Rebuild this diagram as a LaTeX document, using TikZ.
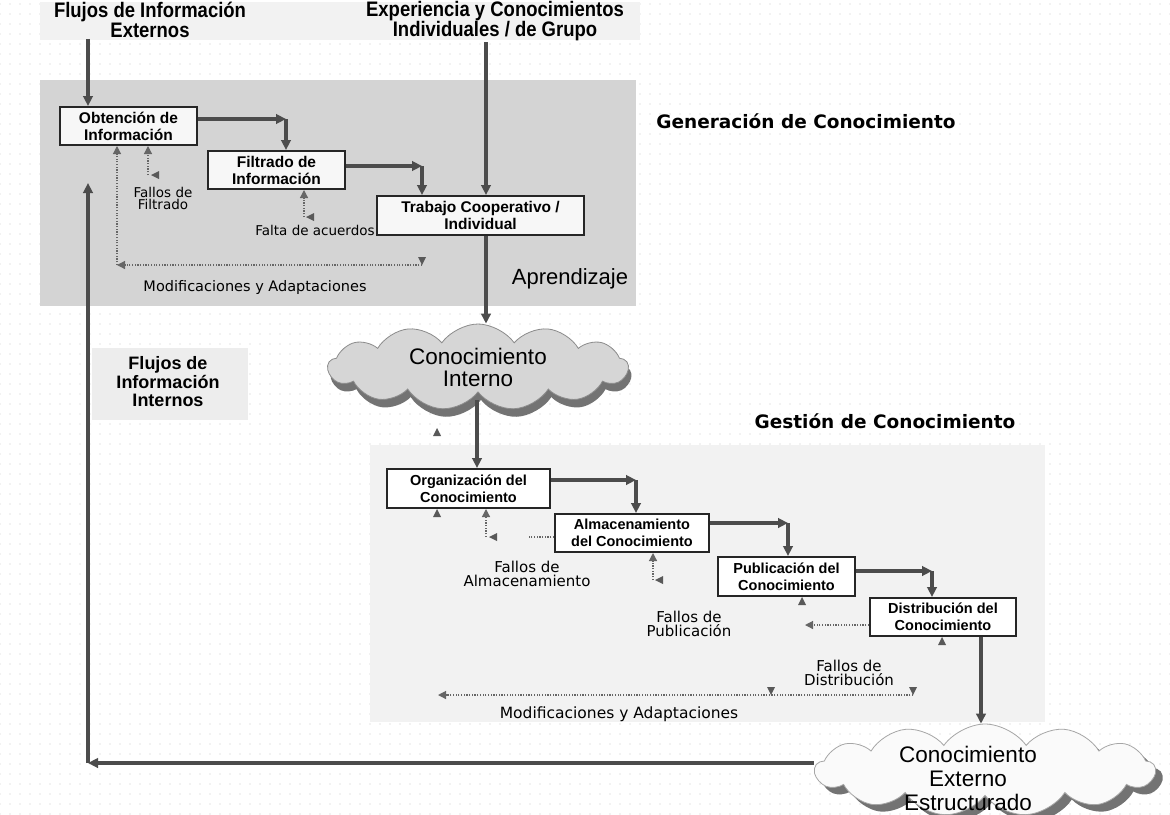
\documentclass[tikz,border=0pt]{standalone}
\usepackage{fontspec}
\setmainfont{Liberation Sans}
\newfontfamily\condfont[FakeStretch=0.88]{Liberation Sans}
\newfontfamily\dvfont{DejaVu Sans}
\usetikzlibrary{arrows.meta,shapes.symbols,calc,patterns}
\pgfdeclarepatternformonly{griddots}{\pgfqpoint{-1pt}{-1pt}}{\pgfqpoint{1pt}{1pt}}{\pgfqpoint{10pt}{10pt}}{\pgfpathcircle{\pgfpointorigin}{0.55pt}\pgfusepath{fill}}
\newcommand\utri[1]{\fill[black!65] ($(#1)+(-4,8)$) -- ($(#1)+(4,8)$) -- (#1) -- cycle;}
\newcommand\dtri[1]{\fill[black!65] ($(#1)+(-4,-8)$) -- ($(#1)+(4,-8)$) -- (#1) -- cycle;}
\newcommand\ltri[1]{\fill[black!65] ($(#1)+(8,-4)$) -- ($(#1)+(8,4)$) -- (#1) -- cycle;}
\begin{document}
\begin{tikzpicture}[x=1pt,y=-1pt,
  genbox/.style={draw=black!85, line width=2pt, fill=black!3, align=center, inner sep=0pt,
    font=\bfseries\fontsize{15.5}{17}\selectfont},
  gesbox/.style={draw=black!85, line width=2pt, fill=white, align=center, inner sep=0pt,
    font=\bfseries\fontsize{14.5}{17}\selectfont},
  flow/.style={draw=black!70, line width=3.3pt, -{Triangle[length=10pt,width=9.5pt]}},
  fb/.style={draw=black!60, line width=1.2pt, dash pattern=on 1.2pt off 1.5pt, -{Triangle[length=8pt,width=8pt]}},
  fbl/.style={draw=black!60, line width=1.2pt, dash pattern=on 1.2pt off 1.5pt},
  toplab/.style={align=center, inner sep=1pt, font=\condfont\bfseries\fontsize{21}{18}\selectfont},
  sect/.style={inner sep=1pt, font=\dvfont\bfseries\fontsize{18.5}{20}\selectfont},
  smallg/.style={align=center, inner sep=0pt, font=\dvfont\fontsize{13.5}{12}\selectfont},
  smalls/.style={align=center, inner sep=0pt, font=\dvfont\fontsize{15}{14}\selectfont},
  cloudsh/.style={cloud, cloud puffs=13, cloud puff arc=110, cloud ignores aspect, inner sep=0pt, align=center,
    font=\fontsize{22.5}{22}\selectfont}
]
\useasboundingbox (0,0) rectangle (1170,814);
\fill[white] (0,0) rectangle (1170,814);
\fill[pattern=griddots, pattern color=black!22] (0,0) rectangle (1170,814);
% shaded regions
\fill[black!5] (40,2) rectangle (640,40);
\fill[black!17] (40,80) rectangle (636,306);
\fill[black!5] (370,445) rectangle (1045,722);
\fill[black!7] (92,348) rectangle (248,420);

% labels
\node[toplab] (fe) at (150,20) {Flujos de Información\\Externos};
\node[toplab] (exp) at (495,21) {Experiencia y Conocimientos\\Individuales / de Grupo};
\node[sect] (gen) at (806,121) {Generación de Conocimiento};
\node[sect] (ges) at (885,421) {Gestión de Conocimiento};
\node[inner sep=0pt, font=\fontsize{22}{22}\selectfont] (apr) at (570,279) {Aprendizaje};
\node[align=center, inner sep=0pt, font=\bfseries\fontsize{18}{18.5}\selectfont] (fi) at (168,382) {Flujos de\\Información\\Internos};

% boxes
\node[genbox, minimum width=137pt, minimum height=38pt] (obt) at (128.5,126) {Obtención de\\Información};
\node[genbox, minimum width=137pt, minimum height=38pt] (fil) at (276.5,170) {Filtrado de\\Información};
\node[genbox, minimum width=207pt, minimum height=39pt] (trab) at (480.5,215.5) {Trabajo Cooperativo /\\Individual};
\node[gesbox, minimum width=163pt, minimum height=39pt] (org) at (468.5,488.5) {Organización del\\Conocimiento};
\node[gesbox, minimum width=154pt, minimum height=38pt] (alm) at (632,533) {Almacenamiento\\del Conocimiento};
\node[gesbox, minimum width=137pt, minimum height=39pt] (pub) at (786.5,576.5) {Publicación del\\Conocimiento};
\node[gesbox, minimum width=146pt, minimum height=38pt] (dis) at (943,617) {Distribución del\\Conocimiento};

% clouds
\node[cloudsh, minimum width=300pt, minimum height=86pt, fill=black!55] (cis) at (481,375) {};
\node[cloudsh, minimum width=300pt, minimum height=86pt, fill=black!16, draw=black!45, line width=0.8pt] (ci) at (478,367) {Conocimiento\\Interno};
\node[cloudsh, minimum width=340pt, minimum height=92pt, fill=black!55] (exts) at (992,777) {};
\node[cloudsh, minimum width=340pt, minimum height=92pt, fill=black!2, draw=black!35, line width=0.8pt] (ext) at (985,770) {};
\node[align=center, inner sep=0pt, font=\fontsize{22.5}{24}\selectfont] (extt) at (968,778) {Conocimiento\\Externo\\Estructurado};

% small labels
\node[smallg] (ff) at (163,198) {Fallos de\\Filtrado};
\node[smallg] (fa) at (315,230) {Falta de acuerdos};
\node[smallg, font=\dvfont\fontsize{14.5}{14}\selectfont] (mod1) at (255,287) {Modificaciones y Adaptaciones};
\node[smalls] (fal) at (527,574) {Fallos de\\Almacenamiento};
\node[smalls, font=\dvfont\fontsize{15}{12}\selectfont] (fpu) at (689,624) {Fallos de\\Publicación};
\node[smalls, font=\dvfont\fontsize{15}{12}\selectfont] (fdi) at (849,673) {Fallos de\\Distribución};
\node[smalls, font=\dvfont\fontsize{15.5}{14}\selectfont] (mod2) at (619,714) {Modificaciones y Adaptaciones};

% main flow
\coordinate (xa) at (88,0);
\coordinate (xb) at (486,0);
\coordinate (xc) at (477,0);
\coordinate (xd) at (981,0);
\draw[flow] (fe.south -| xa) -- (obt.north -| xa);
\draw[flow] (exp.south -| xb) -- (trab.north -| xb);
\coordinate (k1) at (286,119);
\draw[flow] (obt.east |- k1) -- (k1);
\draw[flow] (k1) -- (fil.north -| k1);
\coordinate (k2) at (422,166);
\draw[flow] (fil.east |- k2) -- (k2);
\draw[flow] (k2) -- (trab.north -| k2);
\draw[flow] (trab.south -| xb) -- (ci.north -| xb);
\draw[flow] (cis.south -| xc) -- (org.north -| xc);
\coordinate (k3) at (636,480);
\draw[flow] (org.east |- k3) -- (k3);
\draw[flow] (k3) -- (alm.north -| k3);
\coordinate (k4) at (788,523);
\draw[flow] (alm.east |- k4) -- (k4);
\draw[flow] (k4) -- (pub.north -| k4);
\coordinate (k5) at (932,571);
\draw[flow] (pub.east |- k5) -- (k5);
\draw[flow] (k5) -- (dis.north -| k5);
\draw[flow] (dis.south -| xd) -- (ext.north -| xd);
\coordinate (k6) at (88,763);
\coordinate (ia) at (88,183);
\draw[flow] (ext.west |- k6) -- (k6);
\draw[flow] (k6) -- (ia);

% feedback (dotted)
\coordinate (m1) at (422,265);
\coordinate (m0) at (117,265);
\draw[fb] (m1) -- (m0);
\draw[fb] (m0) -- (obt.south -| m0);
\dtri{m1}
\coordinate (f1) at (148,175);
\draw[fb] (f1) -- (obt.south -| f1);
\ltri{151,175}
\coordinate (f2) at (304,217);
\draw[fb] (f2) -- (fil.south -| f2);
\ltri{306,217}
\utri{437,428}
\coordinate (t1) at (437,0);
\utri{org.south -| t1}
\coordinate (f3) at (486,537);
\coordinate (g1) at (527,537);
\draw[fb] (f3) -- (org.south -| f3);
\ltri{489,537}
\draw[fbl] (alm.west |- g1) -- (g1);
\coordinate (f4) at (653,580);
\draw[fb] (f4) -- (alm.south -| f4);
\ltri{655,580}
\coordinate (t2) at (802,0);
\utri{pub.south -| t2}
\coordinate (g2) at (805,625);
\draw[fb] (dis.west |- g2) -- (g2);
\coordinate (t3) at (942,0);
\utri{dis.south -| t3}
\coordinate (b1) at (913,695);
\coordinate (b0) at (438,695);
\draw[fb] (b1) -- (b0);
\dtri{b1}
\dtri{771,695}
\end{tikzpicture}
\end{document}
